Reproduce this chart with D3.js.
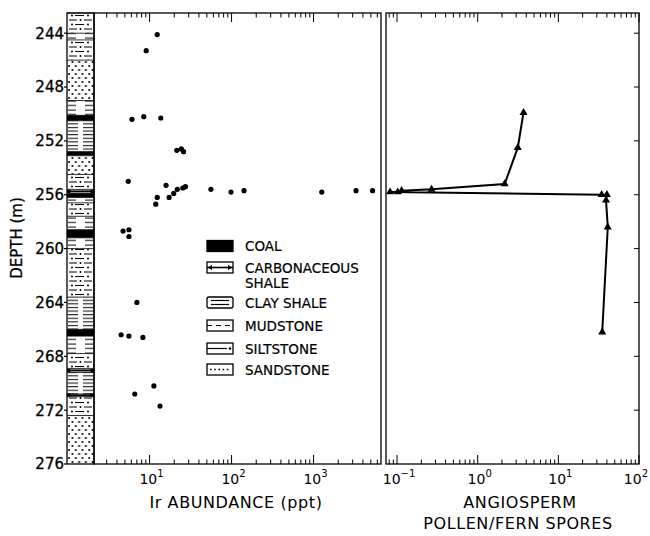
<!DOCTYPE html>
<html><head><meta charset="utf-8">
<script src="https://cdn.jsdelivr.net/npm/d3@7"></script>
<style>body{margin:0;background:#fff}svg{display:block}text{font-family:"DejaVu Sans",sans-serif;fill:#000}</style>
</head><body><svg id="c" width="650" height="536"></svg>
<script>
// ---- data ----
const depthTicks = [244,248,252,256,260,264,268,272,276];
const irDepth = [244.1,245.3,250.4,250.2,250.3,252.7,252.6,252.8,255.0,255.3,256.2,256.7,256.2,255.9,255.6,255.5,255.4,255.6,255.8,255.7,255.8,255.7,255.7,258.7,258.6,259.1,264.0,266.4,266.5,266.6,270.2,270.8,271.7];
const irValue = [12.4,9.1,6.1,8.5,13.7,21.5,24.4,26,5.5,15.9,12.4,11.9,17.3,19.7,21.8,25.4,27.4,56,98.6,142,1260,3300,5250,4.75,5.6,5.6,7.0,4.5,5.6,8.3,11.3,6.6,13.4];
const pollenDepth = [249.9,252.5,255.2,255.6,255.7,255.8,255.8,256.0,256.0,256.4,258.4,266.2];
const pollenValue = [3.7,3.14,2.16,0.268,0.114,0.102,0.082,34.4,40,39,41,35];
const litTop = [242.5,244.0,244.5,246.0,249.0,250.1,250.5,252.8,253.1,254.5,255.6,255.9,256.2,256.6,257.6,258.6,259.2,260.0,263.6,266.0,266.5,267.8,268.9,269.2,270.8,271.0,272.4];
const litBottom = [244.0,244.5,246.0,249.0,250.1,250.5,252.8,253.1,254.5,255.6,255.9,256.2,256.6,257.6,258.6,259.2,260.0,263.6,266.0,266.5,267.8,268.9,269.2,270.8,271.0,272.4,276.0];
const litType = ["silt","mud","silt","sand","mud","coal","clay","coal","sand","silt","carb","coal","mud","silt","mud","coal","mud","silt","clay","coal","mud","silt","carb","clay","carb","silt","sand"];
const legendKeys = ["coal","carb","clay","mud","silt","sand"];
const legendLabels = [["COAL"],["CARBONACEOUS","SHALE"],["CLAY SHALE"],["MUDSTONE"],["SILTSTONE"],["SANDSTONE"]];
const irTickExp = [1,2,3];
const pollenTickExp = ["−1","0","1","2"];

// ---- layout ----
const svg = d3.select("#c");
const top_ = 13, bot = 464, colX0 = 67, colX1 = 94, L0 = 94, L1 = 381, R0 = 386, R1 = 639;
const y = d3.scaleLinear().domain([242.5,276]).range([top_,bot]);
const xIr = d3.scaleLog().domain([2.1,6650]).range([L0,L1]);
const xP = d3.scaleLog().domain([0.073,100]).range([R0,R1]);

// patterns
const defs = svg.append("defs");
function pat(id,w,h,draw){const p=defs.append("pattern").attr("id",id).attr("patternUnits","userSpaceOnUse").attr("x",colX0).attr("y",0).attr("width",w).attr("height",h);p.append("rect").attr("width",w).attr("height",h).attr("fill","#fff");draw(p);}
pat("p-sand",6.75,8,p=>{p.append("circle").attr("cx",2).attr("cy",2).attr("r",1.05);p.append("circle").attr("cx",5.4).attr("cy",6).attr("r",1.05);});
pat("p-silt",27,9,p=>{
  p.append("line").attr("x1",2).attr("x2",10).attr("y1",2).attr("y2",2).attr("stroke","#000").attr("stroke-width",1);
  p.append("circle").attr("cx",13.5).attr("cy",2).attr("r",1);
  p.append("line").attr("x1",17).attr("x2",25).attr("y1",2).attr("y2",2).attr("stroke","#000").attr("stroke-width",1);
  p.append("circle").attr("cx",5).attr("cy",6.5).attr("r",1);
  p.append("line").attr("x1",8).attr("x2",17).attr("y1",6.5).attr("y2",6.5).attr("stroke","#000").attr("stroke-width",1);
  p.append("circle").attr("cx",21).attr("cy",6.5).attr("r",1);
});
pat("p-mud",27,4.5,p=>{
  p.append("line").attr("x1",1).attr("x2",9).attr("y1",2).attr("y2",2).attr("stroke","#000").attr("stroke-width",1);
  p.append("line").attr("x1",18).attr("x2",26).attr("y1",2).attr("y2",2).attr("stroke","#000").attr("stroke-width",1);
});
pat("p-clay",27,3.6,p=>{
  p.append("line").attr("x1",1).attr("x2",11).attr("y1",1.5).attr("y2",1.5).attr("stroke","#000").attr("stroke-width",1);
  p.append("line").attr("x1",16).attr("x2",26).attr("y1",1.5).attr("y2",1.5).attr("stroke","#000").attr("stroke-width",1);
});

// lithology column
const col = svg.append("g");
litType.forEach((t,i)=>{
  const y0=y(litTop[i]), y1=y(litBottom[i]);
  if(t==="coal"){col.append("rect").attr("x",colX0).attr("y",y0).attr("width",colX1-colX0).attr("height",y1-y0).attr("fill","#000");}
  else if(t==="carb"){
    col.append("rect").attr("x",colX0).attr("y",y0).attr("width",colX1-colX0).attr("height",y1-y0).attr("fill","#fff");
    const ym=(y0+y1)/2;
    col.append("line").attr("x1",colX0).attr("x2",colX1).attr("y1",ym).attr("y2",ym).attr("stroke","#000").attr("stroke-width",2);
    col.append("circle").attr("cx",colX0+2).attr("cy",ym).attr("r",1.8);
    col.append("circle").attr("cx",colX1-2).attr("cy",ym).attr("r",1.8);
  } else {
    col.append("rect").attr("x",colX0).attr("y",y0).attr("width",colX1-colX0).attr("height",y1-y0).attr("fill","url(#p-"+t+")");
  }
  col.append("line").attr("x1",colX0).attr("x2",colX1).attr("y1",y0).attr("y2",y0).attr("stroke","#000").attr("stroke-width",0.8);
});
col.append("rect").attr("x",colX0).attr("y",top_).attr("width",colX1-colX0).attr("height",bot-top_).attr("fill","none").attr("stroke","#000").attr("stroke-width",1.3);

// depth labels and ticks
depthTicks.forEach(d=>{
  svg.append("line").attr("x1",colX0-3).attr("x2",colX0).attr("y1",y(d)).attr("y2",y(d)).attr("stroke","#000").attr("stroke-width",1.2);
  svg.append("text").attr("x",colX0-3).attr("y",y(d)).attr("dy","0.36em").attr("text-anchor","end").attr("font-size",15).attr("stroke","#000").attr("stroke-width",0.3).text(d);
  if(d>242.5&&d<276){
    svg.append("line").attr("x1",R1-5).attr("x2",R1).attr("y1",y(d)).attr("y2",y(d)).attr("stroke","#000").attr("stroke-width",1);
  }
});
svg.append("text").attr("transform","translate(22,238) rotate(-90)").attr("text-anchor","middle").attr("font-size",15).attr("stroke","#000").attr("stroke-width",0.3).text("DEPTH (m)");

// frames
svg.append("rect").attr("x",L0).attr("y",top_).attr("width",L1-L0).attr("height",bot-top_).attr("fill","none").attr("stroke","#000").attr("stroke-width",1.3);
svg.append("rect").attr("x",R0).attr("y",top_).attr("width",R1-R0).attr("height",bot-top_).attr("fill","none").attr("stroke","#000").attr("stroke-width",1.3);

// log ticks
function logTicks(scale){
  const g=svg.append("g");
  scale.ticks().forEach(v=>{
    const lg=Math.log10(v), major=Math.abs(lg-Math.round(lg))<1e-6, len=major?9:4.5, x=scale(v);
    g.append("line").attr("x1",x).attr("x2",x).attr("y1",bot).attr("y2",bot-len).attr("stroke","#000").attr("stroke-width",1);
    g.append("line").attr("x1",x).attr("x2",x).attr("y1",top_).attr("y2",top_+len).attr("stroke","#000").attr("stroke-width",1);
  });
}
logTicks(xIr); logTicks(xP);
function expLabel(x,e,anchor){
  const t=svg.append("text").attr("x",x).attr("y",484).attr("text-anchor",anchor||"middle").attr("font-size",14);
  t.append("tspan").text("10");
  t.append("tspan").attr("font-size",10).attr("dy",-7).text(e);
}
irTickExp.forEach(e=>expLabel(xIr(Math.pow(10,e))+2,String(e)));
pollenTickExp.forEach((e,i)=>{
  if(i===pollenTickExp.length-1) expLabel(648,e,"end");
  else expLabel(xP(Math.pow(10,i-1))+2,e);
});

// axis titles
svg.append("text").attr("x",236).attr("y",508).attr("text-anchor","middle").attr("font-size",16).attr("letter-spacing",0.6).text("Ir ABUNDANCE (ppt)");
svg.append("text").attr("x",520).attr("y",508).attr("text-anchor","middle").attr("font-size",16).attr("letter-spacing",0.6).text("ANGIOSPERM");
svg.append("text").attr("x",518).attr("y",529).attr("text-anchor","middle").attr("font-size",16).attr("letter-spacing",0.6).text("POLLEN/FERN SPORES");

// Ir points
svg.append("g").selectAll("circle").data(irDepth.map((d,i)=>[irValue[i],d])).join("circle")
  .attr("cx",p=>xIr(p[0])).attr("cy",p=>y(p[1])).attr("r",2.6).attr("fill","#000");

// pollen line
const pts = pollenDepth.map((d,i)=>[pollenValue[i],d]);
svg.append("path").datum(pts).attr("d",d3.line().x(p=>xP(p[0])).y(p=>y(p[1]))).attr("fill","none").attr("stroke","#000").attr("stroke-width",2);
svg.append("g").selectAll("path").data(pts).join("path")
  .attr("transform",p=>`translate(${xP(p[0])},${y(p[1])})`).attr("d",d3.symbol(d3.symbolTriangle,28)).attr("fill","#000");

// legend
const lx=207, lw=26, lh=11, rowsY=[246,267.5,302.5,325.5,348.5,369.5];
legendKeys.forEach((k,i)=>{
  const cy=rowsY[i], g=svg.append("g");
  const r=g.append("rect").attr("x",lx).attr("y",cy-lh/2).attr("width",lw).attr("height",lh).attr("fill",k==="coal"?"#000":"#fff").attr("stroke","#000").attr("stroke-width",1.3);
  if(k==="clay"){r.attr("rx",2);
    g.append("line").attr("x1",lx+4).attr("x2",lx+lw-4).attr("y1",cy-2).attr("y2",cy-2).attr("stroke","#000").attr("stroke-width",1.2);
    g.append("line").attr("x1",lx+4).attr("x2",lx+lw-4).attr("y1",cy+2).attr("y2",cy+2).attr("stroke","#000").attr("stroke-width",1.2);}
  if(k==="carb"){
    g.append("line").attr("x1",lx).attr("x2",lx+lw).attr("y1",cy).attr("y2",cy).attr("stroke","#000").attr("stroke-width",1.6);
    g.append("path").attr("d",`M${lx+1},${cy}l4,-2.5v5z M${lx+lw-1},${cy}l-4,-2.5v5z`).attr("fill","#000");}
  if(k==="mud"){
    g.append("line").attr("x1",lx).attr("x2",lx+lw).attr("y1",cy).attr("y2",cy).attr("stroke","#000").attr("stroke-width",1.2).attr("stroke-dasharray","5,4");}
  if(k==="silt"){
    g.append("line").attr("x1",lx).attr("x2",lx+lw-6).attr("y1",cy).attr("y2",cy).attr("stroke","#000").attr("stroke-width",1.2);
    g.append("circle").attr("cx",lx+lw-3).attr("cy",cy).attr("r",1.3);}
  if(k==="sand"){
    g.append("line").attr("x1",lx+3).attr("x2",lx+lw-2).attr("y1",cy).attr("y2",cy).attr("stroke","#000").attr("stroke-width",1.6).attr("stroke-dasharray","1.6,2.6");}
  legendLabels[i].forEach((s,j)=>{
    g.append("text").attr("x",245).attr("y",cy+5+j*15).attr("font-size",13.5).attr("stroke","#000").attr("stroke-width",0.2).text(s);
  });
});
</script></body></html>
